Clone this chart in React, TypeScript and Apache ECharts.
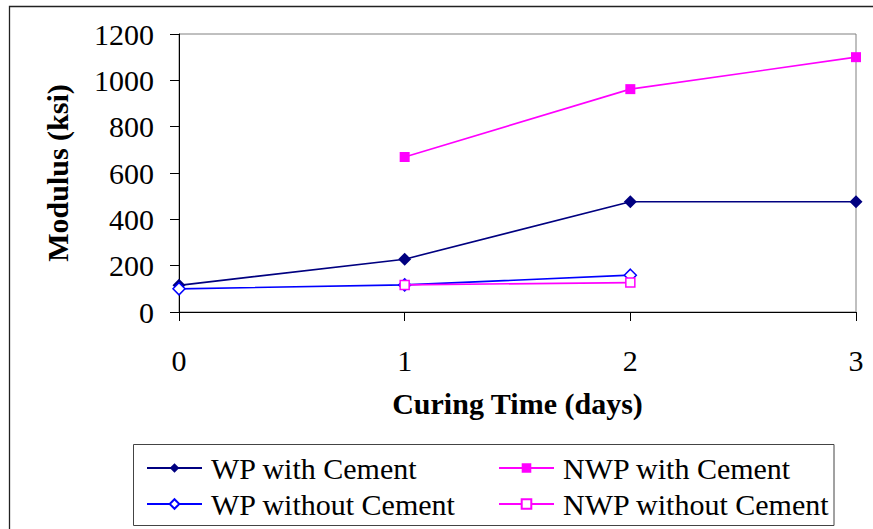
import React, { useEffect, useRef } from "react";
import * as echarts from "echarts";

const xTicks = [0, 1, 2, 3];
const yTicks = [0, 200, 400, 600, 800, 1000, 1200];
const seriesNames = ["WP with Cement", "NWP with Cement", "WP without Cement", "NWP without Cement"];
const wpWithX = [0, 1, 2, 3];
const wpWithY = [115, 228, 476, 476];
const nwpWithX = [1, 2, 3];
const nwpWithY = [669, 962, 1100];
const wpWithoutX = [0, 1, 2];
const wpWithoutY = [100, 117, 159];
const nwpWithoutX = [1, 2];
const nwpWithoutY = [117, 127];

const FONT = "'Liberation Serif', 'Times New Roman', serif";

function pairs(xs: number[], ys: number[]) {
  return xs.map((x, i) => [x, ys[i]]);
}

export default function App() {
  const ref = useRef<HTMLDivElement>(null);
  useEffect(() => {
    if (!ref.current) return;
    const chart = echarts.init(ref.current, undefined, { renderer: "svg" });
    const legendBase = {
      orient: "horizontal",
      padding: 0,
      itemWidth: 55,
      itemHeight: 12,
      textStyle: { fontFamily: FONT, fontSize: 30, color: "#000", padding: [0, 0, 0, 4] },
      selectedMode: false,
    };
    chart.setOption({
      animation: false,
      backgroundColor: "#fff",
      grid: {
        left: 179,
        top: 34,
        right: 17,
        bottom: 217,
        show: true,
        borderColor: "#808080",
        borderWidth: 1,
        backgroundColor: "transparent",
      },
      xAxis: {
        type: "value",
        min: xTicks[0],
        max: xTicks[xTicks.length - 1],
        interval: 1,
        name: "Curing Time (days)",
        nameLocation: "middle",
        nameGap: 76,
        nameTextStyle: { fontFamily: FONT, fontSize: 30, fontWeight: "bold", color: "#000" },
        axisLine: { show: true, lineStyle: { color: "#000", width: 1 } },
        axisTick: { show: true, length: 9, lineStyle: { color: "#000" } },
        axisLabel: { fontFamily: FONT, fontSize: 30, color: "#000", margin: 33, formatter: (v: number) => String(v) },
        splitLine: { show: false },
      },
      yAxis: {
        type: "value",
        min: yTicks[0],
        max: yTicks[yTicks.length - 1],
        interval: 200,
        name: "Modulus (ksi)",
        nameLocation: "middle",
        nameGap: 107,
        nameTextStyle: { fontFamily: FONT, fontSize: 30, fontWeight: "bold", color: "#000" },
        axisLine: { show: true, lineStyle: { color: "#000", width: 1 } },
        axisTick: { show: true, length: 9, lineStyle: { color: "#000" } },
        axisLabel: { fontFamily: FONT, fontSize: 30, color: "#000", margin: 25, formatter: (v: number) => String(v) },
        splitLine: { show: false },
      },
      legend: [
        { ...legendBase, left: 146, top: 453, data: [seriesNames[0]] },
        { ...legendBase, left: 146, top: 489, data: [seriesNames[2]] },
        { ...legendBase, left: 498, top: 453, data: [seriesNames[1]] },
        { ...legendBase, left: 498, top: 489, data: [seriesNames[3]] },
      ],
      graphic: [
        {
          type: "rect",
          shape: { x: 9.5, y: 6.5, width: 900, height: 600 },
          style: { fill: "none", stroke: "#222", lineWidth: 1.3 },
          silent: true,
          z: -1,
        },
        {
          type: "rect",
          shape: { x: 133.5, y: 444.5, width: 700.5, height: 81 },
          style: { fill: "none", stroke: "#444", lineWidth: 1 },
          silent: true,
        },
      ],
      series: [
        {
          name: seriesNames[0],
          type: "line",
          data: pairs(wpWithX, wpWithY),
          symbol: "diamond",
          symbolSize: 13,
          lineStyle: { color: "#000080", width: 1.6 },
          itemStyle: { color: "#000080" },
          z: 3,
        },
        {
          name: seriesNames[1],
          type: "line",
          data: pairs(nwpWithX, nwpWithY),
          symbol: "rect",
          symbolSize: 10,
          lineStyle: { color: "#FF00FF", width: 1.6 },
          itemStyle: { color: "#FF00FF" },
          z: 3,
        },
        {
          name: seriesNames[2],
          type: "line",
          data: pairs(wpWithoutX, wpWithoutY),
          symbol: "diamond",
          symbolSize: 12,
          showAllSymbol: true,
          lineStyle: { color: "#0000FF", width: 1.6 },
          itemStyle: { color: "#fff", borderColor: "#0000FF", borderWidth: 1.5 },
          z: 3,
        },
        {
          name: seriesNames[3],
          type: "line",
          data: pairs(nwpWithoutX, nwpWithoutY),
          symbol: "rect",
          symbolSize: 9,
          lineStyle: { color: "#FF00FF", width: 1.6 },
          itemStyle: { color: "#fff", borderColor: "#FF00FF", borderWidth: 1.5 },
          z: 4,
        },
      ],
    });
    return () => chart.dispose();
  }, []);
  return (
    <div
      ref={ref}
      style={{ position: "absolute", left: 0, top: 0, width: 873, height: 529 }}
    />
  );
}
